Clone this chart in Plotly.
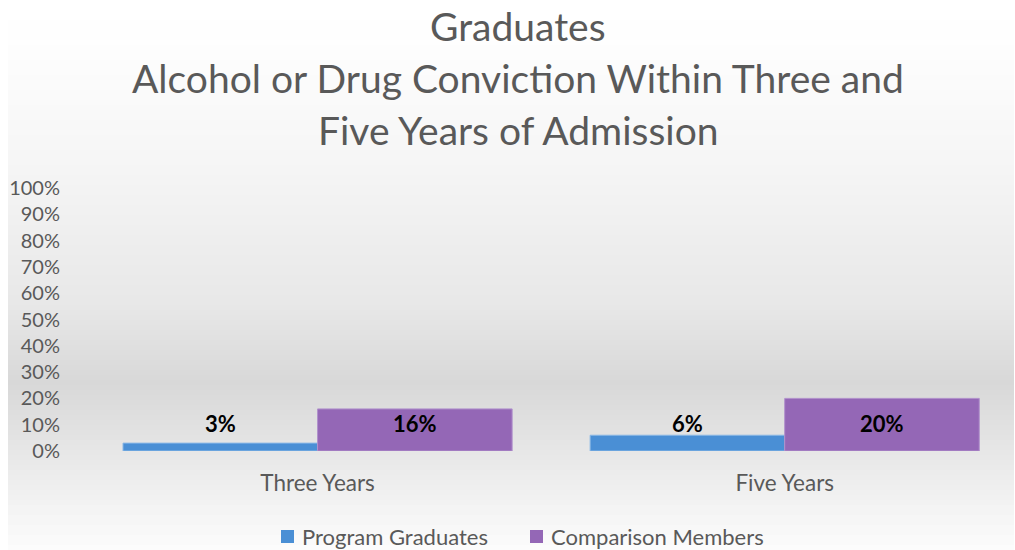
import plotly.graph_objects as go

# Chart data
categories = ["Three Years", "Five Years"]
program_graduates = [3, 6]
comparison_members = [16, 20]
series_names = ["Program Graduates", "Comparison Members"]
y_ticks = list(range(0, 101, 10))
y_tick_labels = [f"{v}%" for v in y_ticks]
title_lines = [
    "Graduates",
    "Alcohol or Drug Conviction Within Three and",
    "Five Years of Admission",
]

# Styling
W, H = 1015, 550
M_L, M_R, M_T, M_B = 84, 0, 188, 99
BLUE = "#4a8fd5"
PURPLE = "#9467b6"
TEXT = "#595959"
FONT = "Lato"

# Background gradient stops: (pixel row, grey level)
bg_stops = [(0, 255), (40, 254), (170, 245), (300, 232), (385, 216), (440, 228), (500, 242), (550, 252)]


def grey_at(py):
    for (y0, g0), (y1, g1) in zip(bg_stops[:-1], bg_stops[1:]):
        if y0 <= py <= y1:
            t = (py - y0) / (y1 - y0)
            return round(g0 + (g1 - g0) * t)
    return bg_stops[-1][1]


plot_h = H - M_T - M_B
plot_w = W - M_L - M_R


def py_to_paper(py):
    return (H - M_B - py) / plot_h


def px_to_paper(px):
    return (px - M_L) / plot_w


shapes = []
step = 5
for py in range(0, H, step):
    g = grey_at(py + step / 2)
    shapes.append(dict(
        type="rect", xref="paper", yref="paper", layer="below",
        x0=px_to_paper(8), x1=px_to_paper(W - 1),
        y0=py_to_paper(py + step), y1=py_to_paper(py),
        fillcolor=f"rgb({g},{g},{g})", line=dict(width=0),
    ))

fig = go.Figure()
fig.add_trace(go.Bar(
    name=series_names[0], x=categories, y=program_graduates,
    marker=dict(color=BLUE, line=dict(color="#8ab8e6", width=1)),
))
fig.add_trace(go.Bar(
    name=series_names[1], x=categories, y=comparison_members,
    marker=dict(color=PURPLE, line=dict(color="#b090cc", width=1)),
))

annotations = []

# Title, one line per annotation for even spacing
for k, line in enumerate(title_lines):
    annotations.append(dict(
        x=px_to_paper(518), y=py_to_paper(26 + 52 * k), xref="paper", yref="paper",
        xanchor="center", yanchor="middle", text=line, showarrow=False,
        font=dict(family=FONT, size=39, color=TEXT),
    ))

# Value labels, all on one row
bar_offset = (1 - 0.167) / 4
for i in range(len(categories)):
    for vals, off in ((program_graduates, -bar_offset), (comparison_members, bar_offset)):
        annotations.append(dict(
            x=i + off, y=10.3, xref="x", yref="y", text=f"<b>{vals[i]}%</b>",
            showarrow=False, yanchor="middle",
            font=dict(family=FONT, size=22, color="#000000"),
        ))

# Legend: coloured squares with series names
legend_items = [(series_names[0], BLUE, 281), (series_names[1], PURPLE, 530)]
for name, color, x0 in legend_items:
    shapes.append(dict(
        type="rect", xref="paper", yref="paper",
        x0=px_to_paper(x0), x1=px_to_paper(x0 + 13),
        y0=py_to_paper(543), y1=py_to_paper(530),
        fillcolor=color, line=dict(width=0),
    ))
    annotations.append(dict(
        x=px_to_paper(x0 + 19), y=py_to_paper(536), xref="paper", yref="paper",
        xanchor="left", yanchor="middle", text=name, showarrow=False,
        font=dict(family=FONT, size=22, color=TEXT),
    ))

fig.update_layout(
    width=W, height=H,
    margin=dict(l=M_L, r=M_R, t=M_T, b=M_B),
    paper_bgcolor="#ffffff", plot_bgcolor="rgba(0,0,0,0)",
    barmode="group", bargap=0.167, bargroupgap=0,
    shapes=shapes, annotations=annotations,
    font=dict(family=FONT, color=TEXT),
    showlegend=False,
    xaxis=dict(
        showgrid=False, zeroline=False, showline=False, automargin=False,
        tickfont=dict(family=FONT, size=22.5, color=TEXT),
        ticklabelstandoff=16, range=[-0.5, 1.493],
    ),
    yaxis=dict(
        range=[0, 100], tickvals=y_ticks, ticktext=y_tick_labels,
        showgrid=False, zeroline=False, showline=False, automargin=False,
        tickfont=dict(family=FONT, size=20, color=TEXT),
        ticklabelstandoff=23,
    ),
)

fig.write_html("out.html")
